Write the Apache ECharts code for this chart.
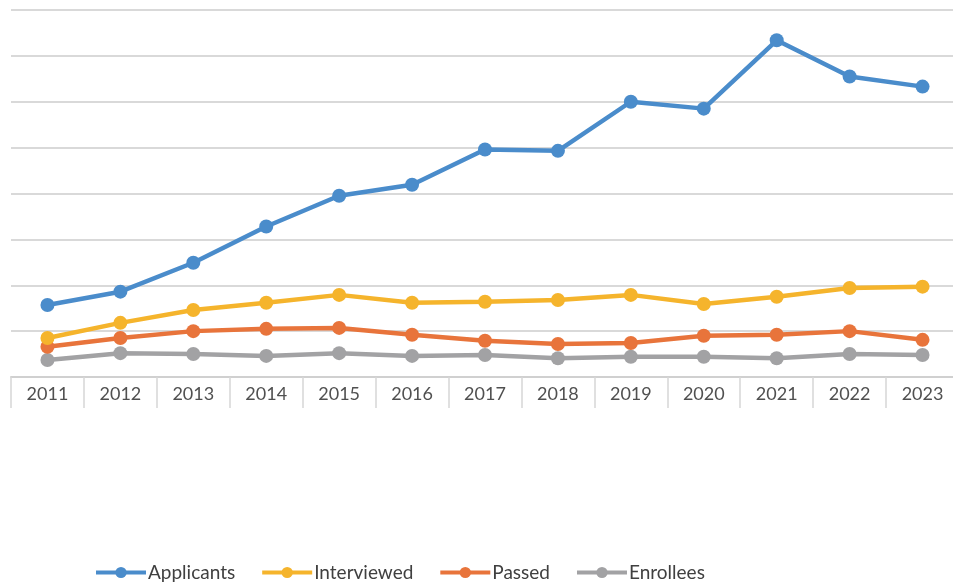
<!DOCTYPE html>
<html><head><meta charset="utf-8">
<script src="https://cdn.jsdelivr.net/npm/echarts@6/dist/echarts.min.js"></script>
<style>html,body{margin:0;padding:0;background:#fff;overflow:hidden}#c{width:962px;height:584px}</style>
</head><body><div id="c"></div>
<script>
const years = ['2011','2012','2013','2014','2015','2016','2017','2018','2019','2020','2021','2022','2023'];
const applicants  = [157,186,249,328,395,419,496,493,600,585,734,655,633];
const interviewed = [85,118,146,162,179,162,164,168,179,159,175,194,197];
const passed      = [66,85,100,105,107,92,79,72,74,90,92,100,81];
const enrollees   = [37,52,50,46,52,46,48,41,44,44,41,50,48];
const seriesNames = ['Applicants','Interviewed','Passed','Enrollees'];
const colors = ['#4a8ccb','#f5b42c','#e8743b','#a2a2a4'];
const dataSets = [applicants, interviewed, passed, enrollees];

const chart = echarts.init(document.getElementById('c'));
chart.setOption({
  animation:false,
  color: colors,
  grid:{left:11,right:3,top:10,bottom:207,containLabel:false},
  legend:{
    left:89, top:558, itemWidth:50, itemHeight:14, itemGap:25,
    lineStyle:{width:4},
    textStyle:{fontFamily:'Lato, "Open Sans", sans-serif', fontSize:19, color:'#404040', padding:[0,0,0,-3]},
    data: seriesNames
  },
  xAxis:{
    type:'category', data:years, boundaryGap:true,
    axisLine:{lineStyle:{color:'#d0d0d0',width:2}},
    axisTick:{show:true,length:31,lineStyle:{color:'#d6d6d6',width:1.5}},
    axisLabel:{fontFamily:'Lato, "Open Sans", sans-serif', fontSize:18, color:'#505050', margin:8}
  },
  yAxis:{
    type:'value', min:0, max:800, interval:100,
    axisLabel:{show:false}, axisLine:{show:false}, axisTick:{show:false},
    splitLine:{lineStyle:{color:'#d9d9d9',width:2}}
  },
  series: seriesNames.map((n,i)=>({
    name:n, type:'line', data:dataSets[i], symbol:'circle', symbolSize:14,
    lineStyle:{width:4.5, color:colors[i]}, itemStyle:{color:colors[i]}, z: 10-i
  }))
});
</script></body></html>
